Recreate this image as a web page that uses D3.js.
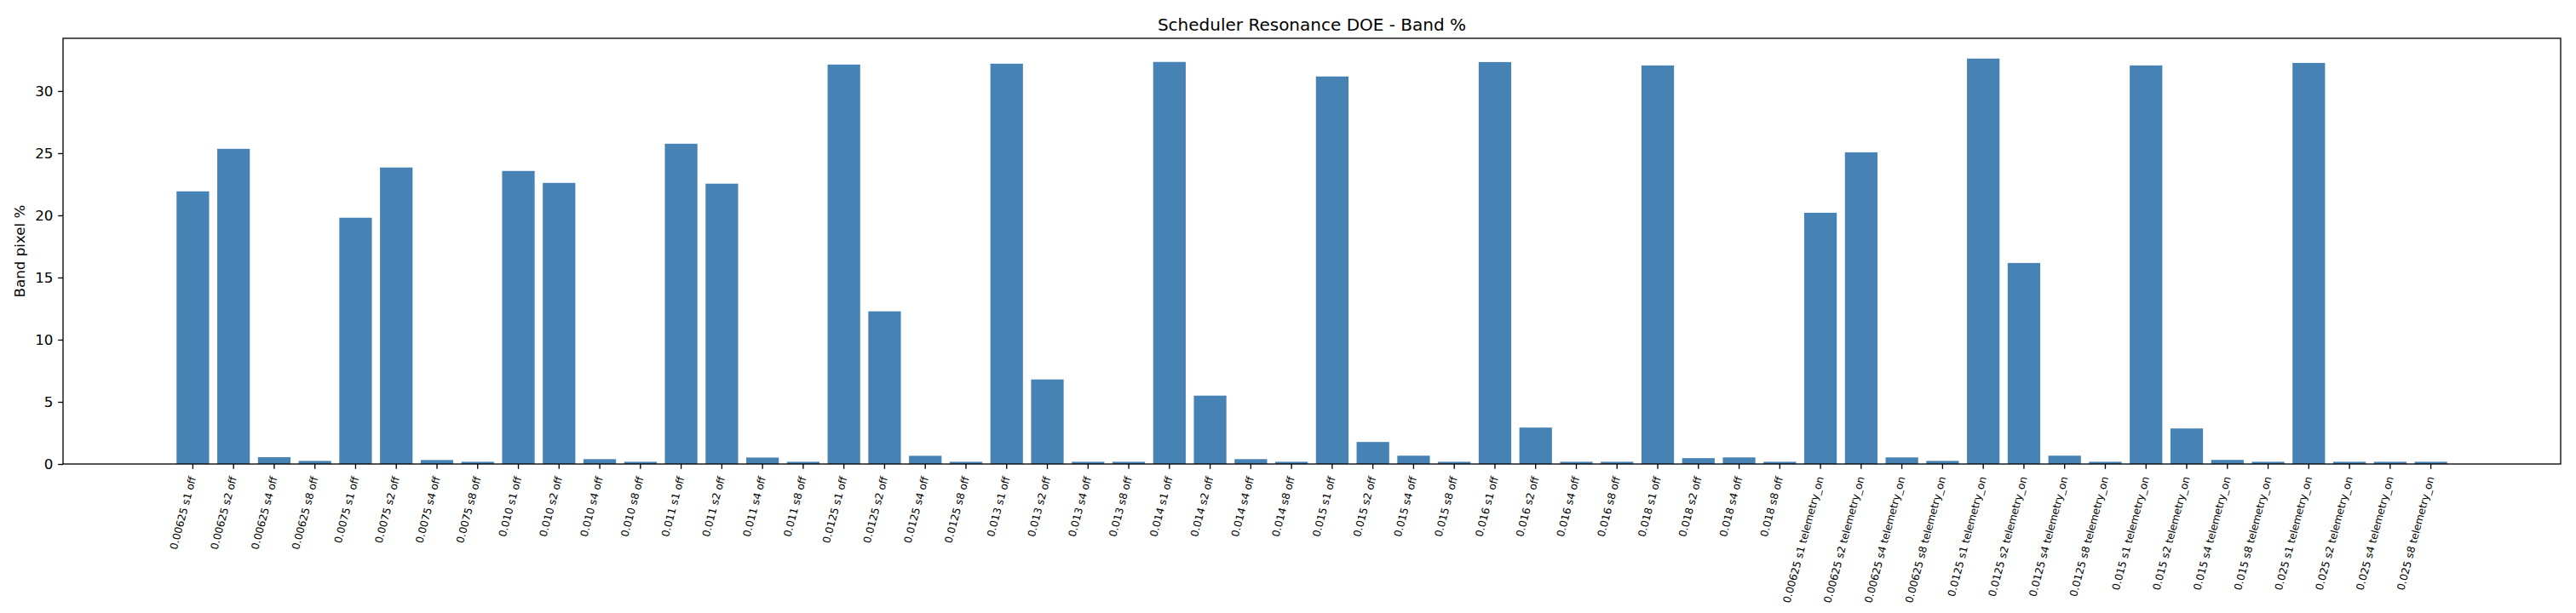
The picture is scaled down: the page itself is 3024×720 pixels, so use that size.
<!DOCTYPE html>
<html>
<head>
<meta charset="utf-8">
<script src="https://cdn.jsdelivr.net/npm/d3@7"></script>
<style>
  html, body { margin: 0; padding: 0; background: #fff; }
  svg { display: block; font-family: "DejaVu Sans", sans-serif; }
</style>
</head>
<body>
<svg id="chart" width="3024" height="720"></svg>
<script>
// ---- data ----
const rates = ["0.00625", "0.0075", "0.010", "0.011", "0.0125", "0.013", "0.014", "0.015", "0.016", "0.018"];
const telemetryRates = ["0.00625", "0.0125", "0.015", "0.025"];
const strides = ["s1", "s2", "s4", "s8"];
const categories = [
  ...rates.flatMap(r => strides.map(s => `${r} ${s} off`)),
  ...telemetryRates.flatMap(r => strides.map(s => `${r} ${s} telemetry_on`))
];
const bandPct = [
  21.93, 25.35, 0.55, 0.25,
  19.81, 23.85, 0.32, 0.18,
  23.57, 22.61, 0.39, 0.18,
  25.76, 22.55, 0.52, 0.18,
  32.13, 12.28, 0.66, 0.18,
  32.20, 6.80, 0.18, 0.18,
  32.34, 5.50, 0.39, 0.18,
  31.17, 1.77, 0.67, 0.18,
  32.33, 2.93, 0.18, 0.18,
  32.06, 0.47, 0.53, 0.18,
  20.21, 25.07, 0.53, 0.25,
  32.61, 16.17, 0.67, 0.18,
  32.06, 2.86, 0.33, 0.18,
  32.26, 0.18, 0.18, 0.18
];
const yTicks = [0, 5, 10, 15, 20, 25, 30];
const title = "Scheduler Resonance DOE - Band %";
const yLabel = "Band pixel %";

// ---- layout ----
const L = 74, R = 3006, T = 45, B = 545;
const svg = d3.select("#chart");
svg.append("rect").attr("width", 3024).attr("height", 720).attr("fill", "#fff");

const yMax = d3.max(bandPct) * 1.05;
const x = d3.scaleBand().domain(categories).range([L, R])
  .paddingInner(0.2).paddingOuter(2.79).align(0.5);
const y = d3.scaleLinear().domain([0, yMax]).range([B, T]);

svg.append("g").selectAll("rect").data(categories).join("rect")
  .attr("x", d => x(d))
  .attr("width", x.bandwidth())
  .attr("y", (d, i) => y(bandPct[i]))
  .attr("height", (d, i) => y(0) - y(bandPct[i]))
  .attr("fill", "steelblue");

// y axis
const yAxis = svg.append("g").attr("transform", `translate(${L},0)`)
  .call(d3.axisLeft(y).tickValues(yTicks).tickSize(5.8).tickPadding(5.8).tickFormat(d3.format("d")));
yAxis.select(".domain").remove();
yAxis.selectAll("line").attr("stroke", "#000").attr("stroke-width", 1.33);
yAxis.selectAll("text").attr("font-size", "16.7px").attr("fill", "#000").attr("font-family", "DejaVu Sans");

// x axis
const xAxis = svg.append("g").attr("transform", `translate(0,${B})`)
  .call(d3.axisBottom(x).tickSize(5.8).tickPadding(0));
xAxis.select(".domain").remove();
xAxis.selectAll("line").attr("stroke", "#000").attr("stroke-width", 1.33);
xAxis.selectAll("text")
  .attr("font-size", "12.2px").attr("fill", "#000").attr("font-family", "DejaVu Sans")
  .attr("text-anchor", "end")
  .attr("dy", null)
  .attr("y", null)
  .attr("transform", "translate(0,15) rotate(-75)")
  .attr("dominant-baseline", "central");

// frame
svg.append("rect").attr("x", L).attr("y", T).attr("width", R - L).attr("height", B - T)
  .attr("fill", "none").attr("stroke", "#000").attr("stroke-width", 1.33);

// title
svg.append("text").attr("x", (L + R) / 2).attr("y", 36)
  .attr("text-anchor", "middle").attr("font-size", "20px").attr("fill", "#000")
  .text(title);

// y label
svg.append("text").attr("transform", `translate(29,${(T + B) / 2}) rotate(-90)`)
  .attr("text-anchor", "middle").attr("font-size", "16.7px").attr("fill", "#000")
  .text(yLabel);
</script>
</body>
</html>
